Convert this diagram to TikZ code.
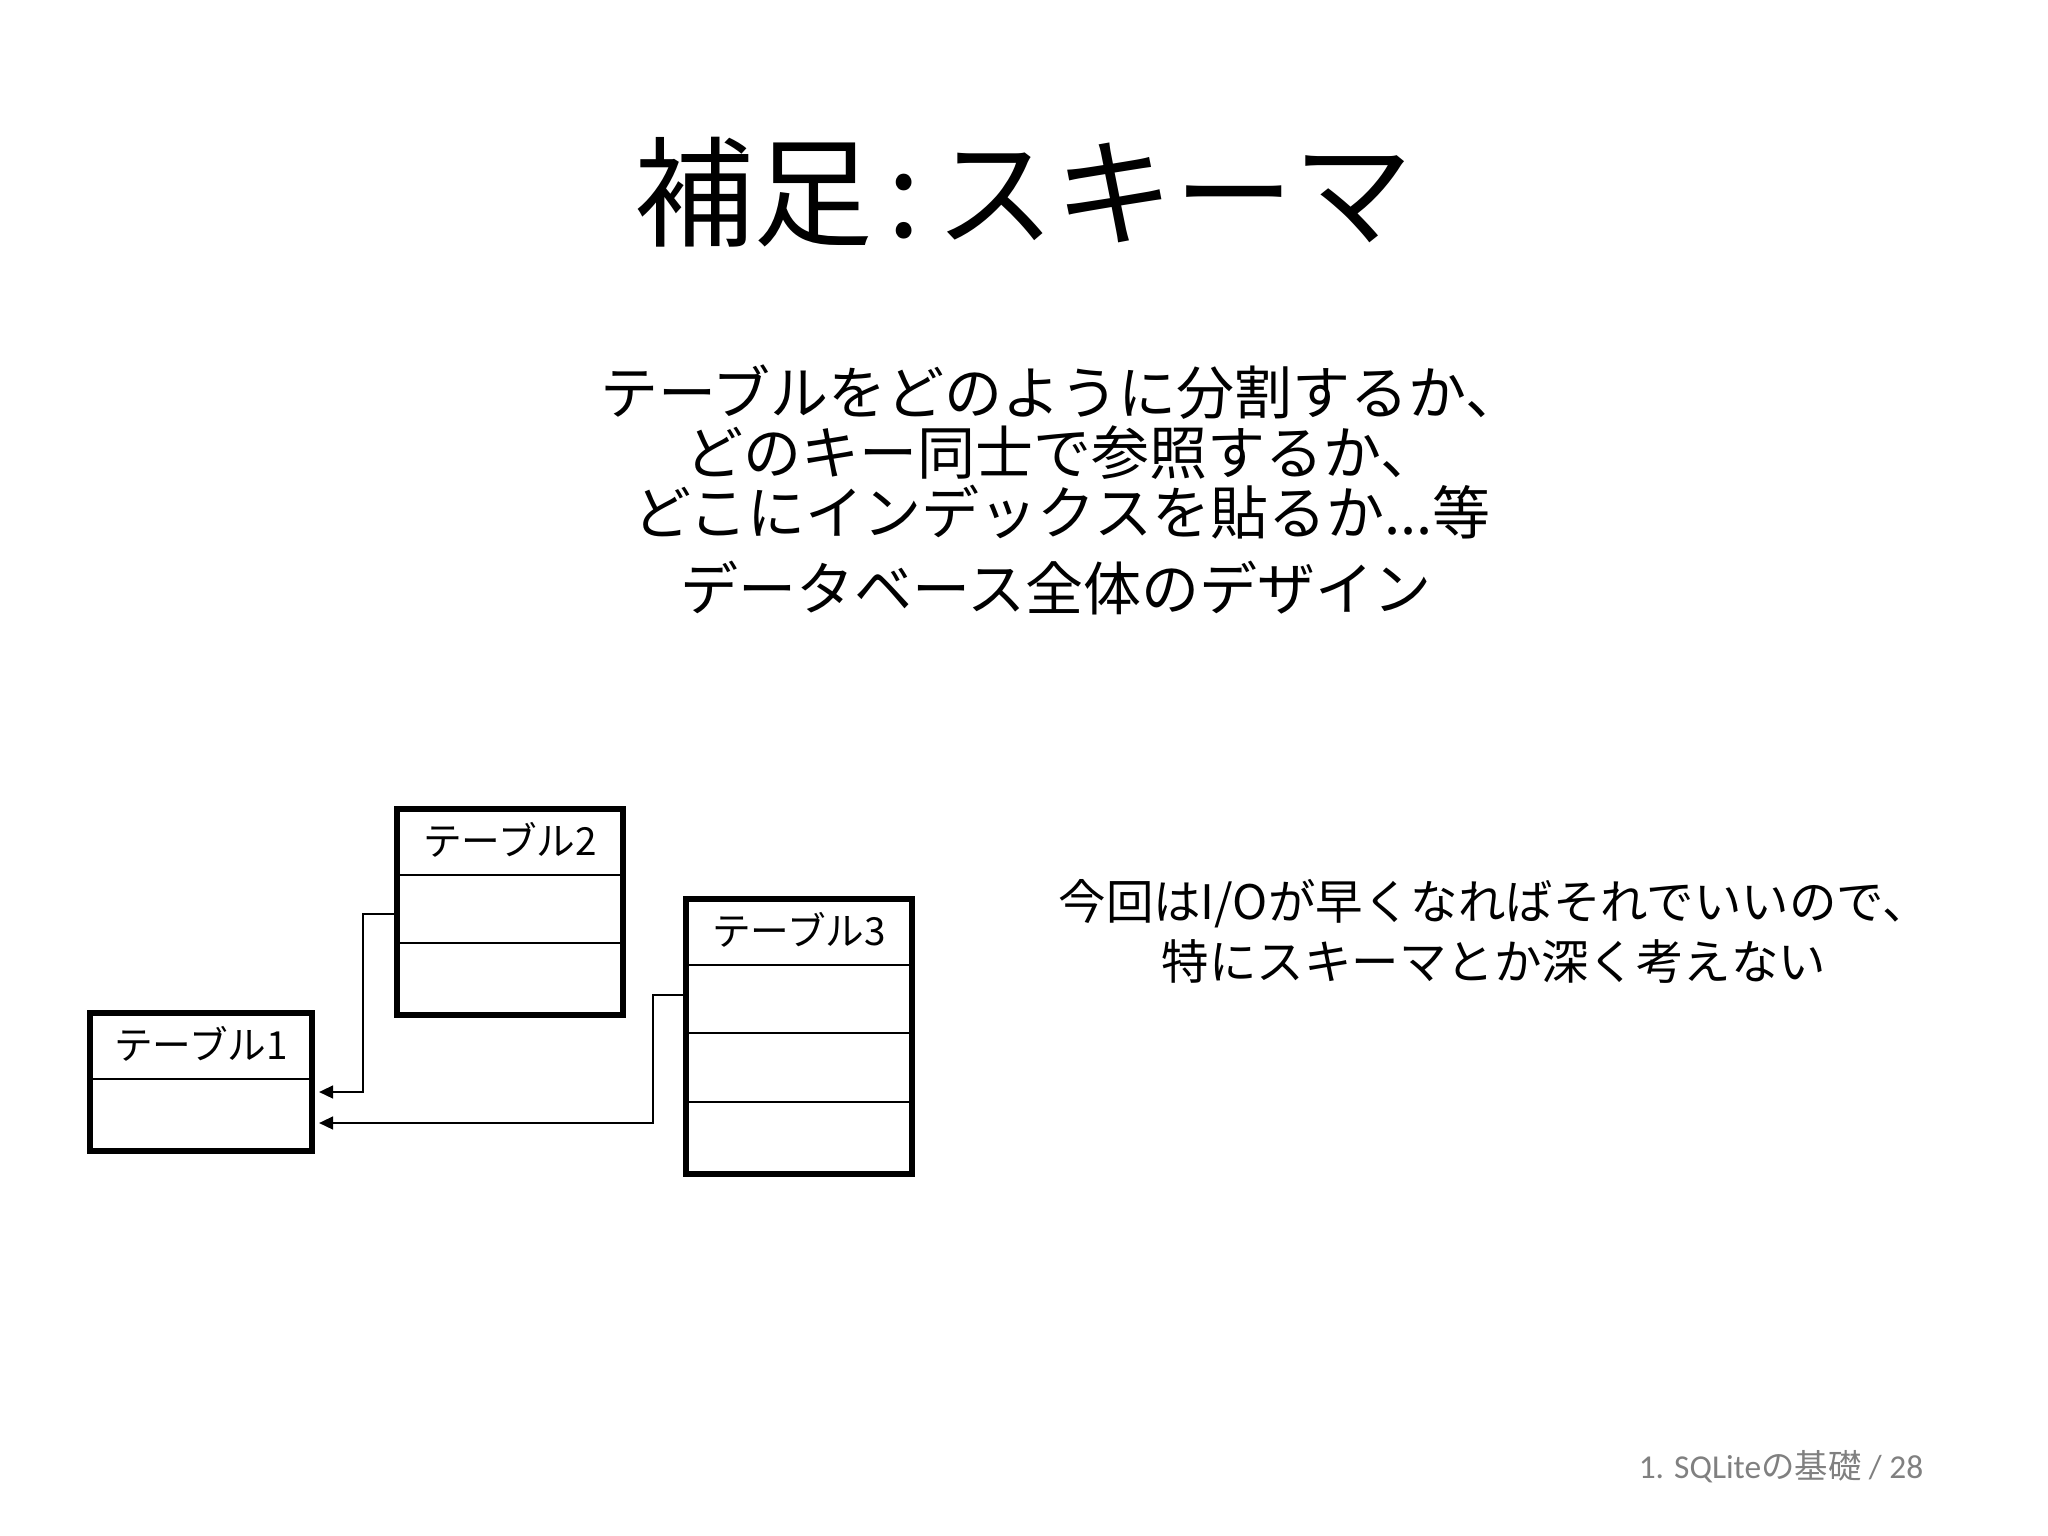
\documentclass[tikz,border=0pt]{standalone}
\usepackage{fontspec}
\setmainfont{Noto Sans CJK JP}
\newfontfamily\footfont{Carlito}
\usetikzlibrary{arrows.meta,calc}
\definecolor{footgray}{RGB}{128,128,128}
\begin{document}
\begin{tikzpicture}[x=0.01cm,y=-0.01cm]
\tikzset{TableStyle/.style 2 args={draw,line width=1.7pt,minimum width=#1,minimum height=#2,anchor=north west,inner sep=0pt}}
\tikzset{RowStyle/.style={line width=0.6pt}}
\tikzset{LabelStyle/.style={font=\fontsize{11}{13}\selectfont}}
\tikzset{KeyStyle/.style={line width=0.45pt,-{Triangle[length=1.4mm,width=1.3mm]}}}
\useasboundingbox (0,0) rectangle (2048,1536);
\node[anchor=base,font=\fontsize{34}{36}\selectfont] (title) at (1024,237) {補足\hspace{0.12em}:\hspace{0.12em}スキーマ};
\node[anchor=base,align=center,font=\fontsize{16.5}{17}\selectfont] (desc) at (1062,534) {テーブルをどのように分割するか、\\どのキー同士で参照するか、\\どこにインデックスを貼るか...等};
\node[anchor=base,font=\fontsize{16.5}{17}\selectfont] (design) at (1056,610) {データベース全体のデザイン};
\node[anchor=base,align=center,font=\fontsize{13.5}{16.8}\selectfont] (note) at (1494,979) {今回はI/Oが早くなればそれでいいので、\\特にスキーマとか深く考えない};
\node[TableStyle={2.22cm}{1.38cm}] (t1) at (87,1010) {};
\node[TableStyle={2.26cm}{2.06cm}] (t2) at (394,806) {};
\node[TableStyle={2.26cm}{2.75cm}] (t3) at (683,896) {};
\foreach \t/\n in {t1/1,t2/2,t3/3}{
  \node[LabelStyle] (\t h) at ($(\t.north)+(0,34)$) {テーブル\n};
}
\draw[RowStyle] ($(t1.north west)+(0,69)$) -- ($(t1.north east)+(0,69)$);
\foreach \r in {69,137}
  \draw[RowStyle] ($(t2.north west)+(0,\r)$) -- ($(t2.north east)+(0,\r)$);
\foreach \r in {69,137,206}
  \draw[RowStyle] ($(t3.north west)+(0,\r)$) -- ($(t3.north east)+(0,\r)$);
\coordinate (fk2) at ($(t2.north west)+(0,108)$);
\coordinate (fk3) at ($(t3.north west)+(0,99)$);
\coordinate (pk2) at ($(t1.north east)+(4,82)$);
\coordinate (pk3) at ($(t1.north east)+(4,113)$);
\draw[KeyStyle] (fk2) -- ++(-31,0) |- (pk2);
\draw[KeyStyle] (fk3) -- ++(-30,0) |- (pk3);
\node[anchor=base east,inner sep=0pt,text=footgray,font=\fontsize{9.5}{11}\selectfont] (page) at (1924,1478) {\footfont 1. SQLite\normalfont の基礎\footfont{} / 28};
\end{tikzpicture}
\end{document}
